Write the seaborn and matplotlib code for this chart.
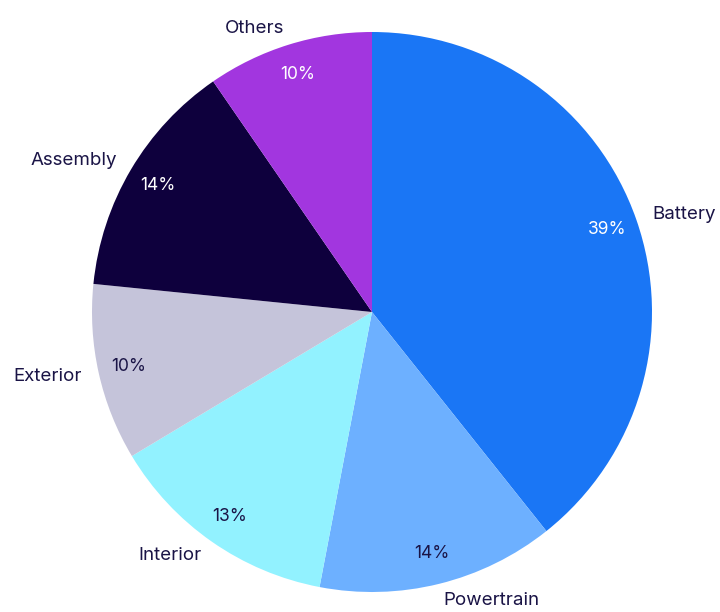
import matplotlib
matplotlib.use("Agg")
import matplotlib.pyplot as plt
import seaborn as sb

# Cost share by component (%)
categories = ["Battery", "Powertrain", "Interior", "Exterior", "Assembly", "Others"]
shares = [39.3, 13.7, 13.4, 10.2, 13.8, 9.6]
slice_colors = ["#1a76f5", "#6db0ff", "#92f2ff", "#c5c4da", "#0e003d", "#a236df"]
pct_colors = ["white", "#1a1446", "#1a1446", "#1a1446", "white", "white"]

sb.set_theme(style="white")
plt.rcParams['font.family'] = ['Inter', 'DejaVu Sans']

fig = plt.figure(figsize=(7.2, 6.12), dpi=100)
ax = fig.add_axes([92 / 720, 20 / 612, 560 / 720, 560 / 612])

wedges, texts, autotexts = ax.pie(
    shares,
    labels=categories,
    colors=sb.color_palette(slice_colors),
    startangle=90,
    counterclock=False,
    autopct="%.0f%%",
    pctdistance=0.89,
    labeldistance=1.06,
    wedgeprops={"linewidth": 0, "edgecolor": "none"},
    textprops={"fontsize": 13.5, "color": "#1a1446"},
)

for t, c in zip(autotexts, pct_colors):
    t.set_color(c)
    t.set_fontsize(12.5)

ax.set_xlim(-1, 1)
ax.set_ylim(-1, 1)
ax.set_aspect("auto")

fig.savefig("out.png", dpi=100)
